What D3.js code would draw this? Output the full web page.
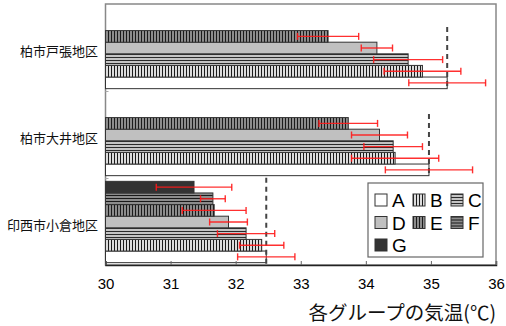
<!DOCTYPE html>
<html>
<head>
<meta charset="utf-8">
<script src="https://cdn.jsdelivr.net/npm/d3@7"></script>
<style>
  body { margin: 0; background: #fff; }
  text { font-family: "Liberation Sans", Arial, sans-serif; }
  .jp { font-family: "Noto Sans CJK JP", sans-serif; }
</style>
</head>
<body>
<div id="chart"></div>
<script>
var width = 506,
    height = 326;

// data
var districts = ["柏市戸張地区", "柏市大井地区", "印西市小倉地区"];
var groups = ["A", "B", "C", "D", "E", "F", "G"];
var values = {
  A: [35.25, 34.97, 32.47],
  B: [34.87, 34.45, 32.40],
  C: [34.65, 34.42, 32.16],
  D: [34.17, 34.21, 31.89],
  E: [33.42, 33.73, 31.67],
  F: [null, null, 31.65],
  G: [null, null, 31.36]
};
var errors = {
  A: [0.59, 0.67, 0.44],
  B: [0.59, 0.67, 0.34],
  C: [0.53, 0.45, 0.44],
  D: [0.24, 0.43, 0.29],
  E: [0.47, 0.45, 0.49],
  F: [null, null, 0.19],
  G: [null, null, 0.58]
};
var xTicks = [30, 31, 32, 33, 34, 35, 36];

var svg = d3.select("#chart").append("svg")
    .attr("width", width)
    .attr("height", height);

// patterns
var defs = svg.append("defs");
function stripes(id, vertical, line, bg) {
  var p = defs.append("pattern")
      .attr("id", id)
      .attr("patternUnits", "userSpaceOnUse")
      .attr("width", 3)
      .attr("height", 3);
  p.append("rect").attr("width", 3).attr("height", 3).attr("fill", bg);
  if (vertical) p.append("rect").attr("width", 1).attr("height", 3).attr("fill", line);
  else p.append("rect").attr("width", 3).attr("height", 1).attr("fill", line);
}
stripes("pB", true, "#1a1a1a", "#dcdcdc");
stripes("pC", false, "#2a2a2a", "#c4c4c4");
stripes("pE", true, "#1a1a1a", "#8c8c8c");
stripes("pF", false, "#1a1a1a", "#8c8c8c");

var fills = {
  A: "#ffffff", B: "url(#pB)", C: "url(#pC)", D: "#c0c0c0",
  E: "url(#pE)", F: "url(#pF)", G: "#333333"
};

var x = d3.scaleLinear().domain([30, 36]).range([105.5, 496]);
var y0 = d3.scaleBand().domain(districts).range([4.5, 265.5]);
var y1 = d3.scaleBand().domain(groups.slice().reverse())
    .range([0, y0.bandwidth()]).paddingOuter(0.245);

// plot frame
svg.append("rect")
    .attr("x", x(30)).attr("y", 4)
    .attr("width", x(36) - x(30)).attr("height", 261)
    .attr("fill", "none")
    .attr("stroke", "#888")
    .attr("stroke-width", 1.5);

// category ticks
svg.selectAll(".ctick").data(districts.slice(1)).enter().append("line")
    .attr("x1", x(30)).attr("x2", x(30) + 3)
    .attr("y1", function(d) { return y0(d); })
    .attr("y2", function(d) { return y0(d); })
    .attr("stroke", "#aaa");

// bars
var rows = [];
districts.forEach(function(c, i) {
  groups.forEach(function(g) {
    if (values[g][i] != null) rows.push({cat: c, i: i, g: g, v: values[g][i], e: errors[g][i]});
  });
});

svg.selectAll(".bar").data(rows).enter().append("rect")
    .attr("x", x(30))
    .attr("y", function(d) { return y0(d.cat) + y1(d.g); })
    .attr("width", function(d) { return x(d.v) - x(30); })
    .attr("height", y1.bandwidth())
    .attr("fill", function(d) { return fills[d.g]; })
    .attr("stroke", "#333")
    .attr("stroke-width", 1);

// dashed reference line at A
districts.forEach(function(c, i) {
  var present = groups.filter(function(g) { return values[g][i] != null; });
  var top = y0(c) + y1(present[present.length - 1]) - 3.5;
  var bottom = i === districts.length - 1 ? 265 : y0(c) + y1("A") + y1.bandwidth();
  svg.append("line")
      .attr("x1", x(values.A[i])).attr("x2", x(values.A[i]))
      .attr("y1", top).attr("y2", bottom)
      .attr("stroke", "#444")
      .attr("stroke-width", 2)
      .attr("stroke-dasharray", "5,4");
});

// error bars
var eb = svg.selectAll(".err").data(rows).enter().append("g")
    .attr("stroke", "#ff1a1a")
    .attr("stroke-width", 1.4)
    .attr("stroke-opacity", 0.9);
function cy(d) { return y0(d.cat) + y1(d.g) + y1.bandwidth() / 2; }
eb.append("line")
    .attr("x1", function(d) { return x(d.v - d.e); })
    .attr("x2", function(d) { return x(d.v + d.e); })
    .attr("y1", cy).attr("y2", cy);
eb.append("line")
    .attr("x1", function(d) { return x(d.v - d.e); })
    .attr("x2", function(d) { return x(d.v - d.e); })
    .attr("y1", function(d) { return cy(d) - 3.5; })
    .attr("y2", function(d) { return cy(d) + 3.5; });
eb.append("line")
    .attr("x1", function(d) { return x(d.v + d.e); })
    .attr("x2", function(d) { return x(d.v + d.e); })
    .attr("y1", function(d) { return cy(d) - 3.5; })
    .attr("y2", function(d) { return cy(d) + 3.5; });

// x axis
var xAxis = svg.append("g")
    .attr("transform", "translate(0,265)")
    .call(d3.axisBottom(x).tickValues(xTicks).tickSize(-4).tickPadding(13).tickFormat(d3.format("d")));
xAxis.select(".domain").attr("stroke", "#222").attr("stroke-width", 1.5);
xAxis.selectAll(".tick line").attr("stroke", "#666");
xAxis.selectAll(".tick text")
    .attr("font-size", "15px")
    .attr("fill", "#000")
    .style("font-family", "'Liberation Sans', Arial, sans-serif");

svg.append("text")
    .attr("class", "jp")
    .attr("x", 496).attr("y", 320)
    .attr("text-anchor", "end")
    .attr("font-size", "19.5px")
    .attr("fill", "#111")
    .text("各グループの気温(℃)");

// category labels
svg.selectAll(".clabel").data(districts).enter().append("text")
    .attr("class", "jp")
    .attr("x", 98)
    .attr("y", function(d) { return y0(d) + y0.bandwidth() / 2 + 7.5; })
    .attr("text-anchor", "end")
    .attr("font-size", "13px")
    .attr("fill", "#111")
    .text(function(d) { return d; });

// legend
var legend = svg.append("g");
legend.append("rect")
    .attr("x", 368).attr("y", 183)
    .attr("width", 115).attr("height", 74)
    .attr("fill", "#fff")
    .attr("stroke", "#666")
    .attr("stroke-width", 1.2);
var li = legend.selectAll(".li").data(groups).enter().append("g")
    .attr("transform", function(d, i) {
      return "translate(" + (375 + (i % 3) * 38) + "," + (200 + Math.floor(i / 3) * 22.5) + ")";
    });
li.append("rect")
    .attr("x", 0).attr("y", -6)
    .attr("width", 12).attr("height", 12)
    .attr("fill", function(d) { return fills[d]; })
    .attr("stroke", "#333");
li.append("text")
    .attr("x", 17).attr("y", 7)
    .attr("font-size", "19px")
    .attr("fill", "#000")
    .text(function(d) { return d; });
</script>
</body>
</html>
